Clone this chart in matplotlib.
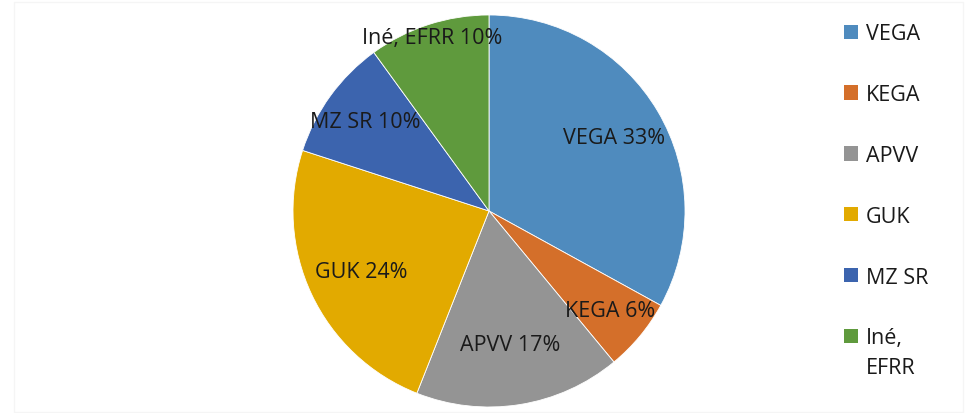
import numpy as np
import matplotlib
matplotlib.use('Agg')
import matplotlib.pyplot as plt
from matplotlib.patches import Patch, Rectangle

plt.rcParams['font.family'] = ['Open Sans', 'DejaVu Sans']

labels = ['VEGA', 'KEGA', 'APVV', 'GUK', 'MZ SR', 'Iné, EFRR']
legend_labels = ['VEGA', 'KEGA', 'APVV', 'GUK', 'MZ SR', 'Iné,']
values = [33, 6, 17, 24, 10, 10]
colors = ['#4f8bbe', '#d46f2a', '#949494', '#e2aa00', '#3c64ae', '#5f9a3d']
# radial position of each data label (fraction of radius)
label_dist = [0.74, 0.80, 0.69, 0.72, 0.78, 0.93]
fs = 15.5

fig = plt.figure(figsize=(9.67, 4.14), dpi=100)
ax = fig.add_axes([0.303, 0.0145, 0.4054, 0.9469])

wedges, _ = ax.pie(values, colors=colors, startangle=90, counterclock=False,
                   wedgeprops=dict(edgecolor='white', linewidth=0.6))
ax.set_xlim(-1, 1)
ax.set_ylim(-1, 1)
ax.set_aspect('equal')

for w, lab, v, d in zip(wedges, labels, values, label_dist):
    ang = np.deg2rad((w.theta1 + w.theta2) / 2)
    ax.text(d * np.cos(ang), d * np.sin(ang), f'{lab} {v}%',
            ha='center', va='center', fontsize=fs, color='#1a1a1a')

handles = [Patch(facecolor=c, edgecolor='none') for c in colors]
leg = fig.legend(handles, legend_labels, loc='upper left',
                 bbox_to_anchor=(0.853, 0.988), frameon=False,
                 fontsize=fs, handlelength=0.65, handleheight=0.65,
                 handletextpad=0.37, labelspacing=1.85)
for t in leg.get_texts():
    t.set_color('#1a1a1a')

# second line of the last legend entry, like the wrapped label in the original
fig.canvas.draw()
bb = leg.get_texts()[-1].get_window_extent()
fig.text(bb.x0 / fig.bbox.width, (bb.y0 - 30) / fig.bbox.height, 'EFRR',
         fontsize=fs, color='#1a1a1a', ha='left', va='bottom')

fig.patches.append(Rectangle((0.014, 0.003), 0.982, 0.99, transform=fig.transFigure,
                             fill=False, edgecolor='#f5f5f5', linewidth=1))

fig.savefig('out.png', dpi=100)
